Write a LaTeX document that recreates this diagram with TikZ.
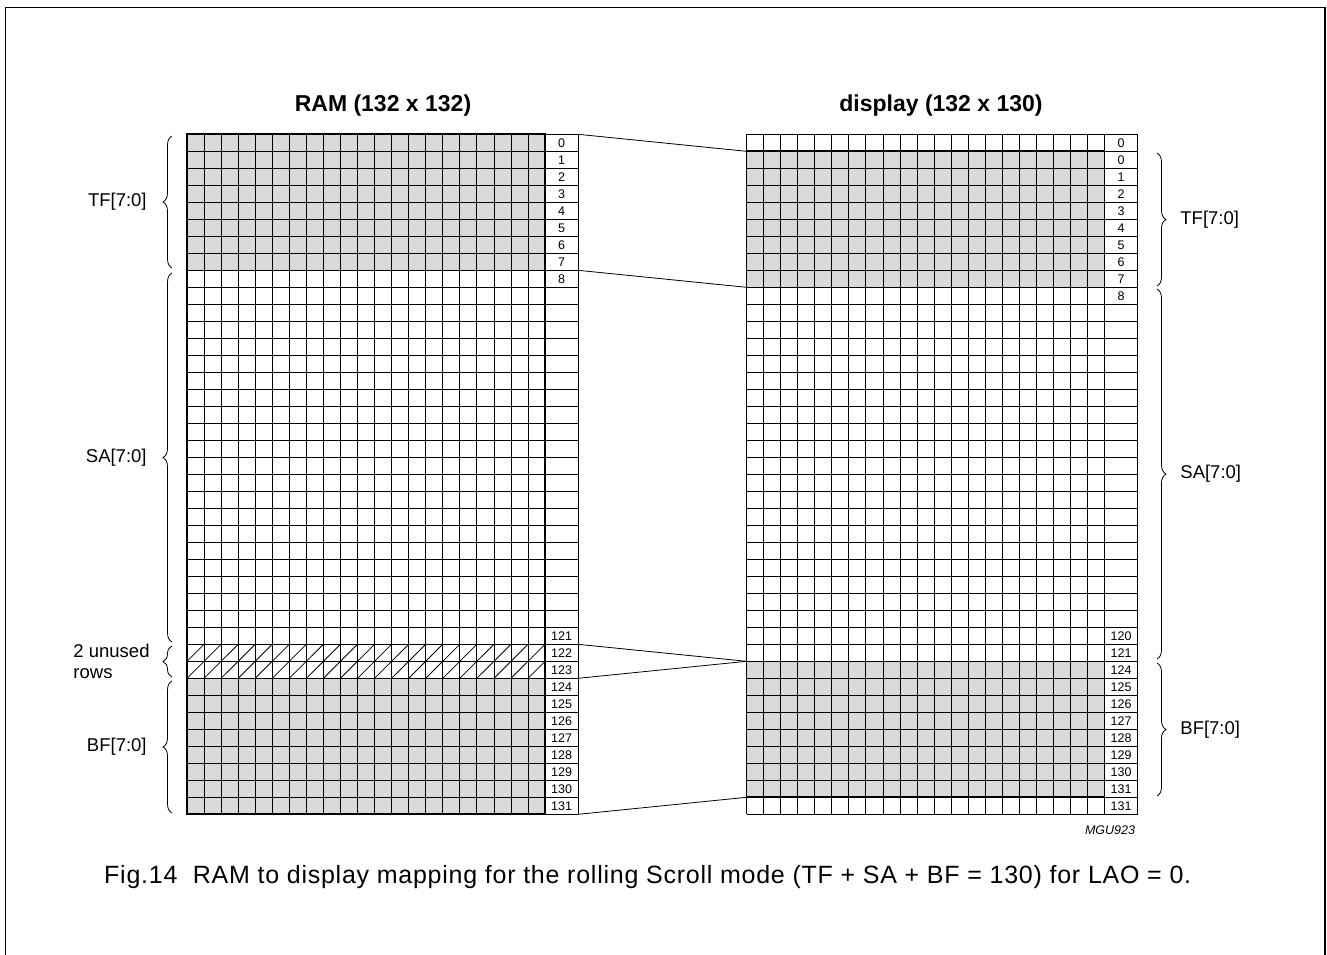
\documentclass[tikz,border=0pt]{standalone}
\usepackage{fontspec}
\setmainfont{Liberation Sans}
\usetikzlibrary{decorations.pathreplacing,positioning}

\tikzset{
  cell/.style={black, line width=0.8pt},
  thickframe/.style={black, line width=1.7pt},
  shade/.style={fill=black!15},
  rowno/.style={font=\fontsize{12.5}{14}\selectfont, inner sep=0pt},
  brc/.style={decorate, decoration={brace, amplitude=9pt}, line width=0.8pt},
  fieldlabel/.style={font=\fontsize{18.5}{20.5}\selectfont, inner sep=0pt},
  titlelabel/.style={font=\fontsize{23}{25}\selectfont\bfseries, inner sep=0pt},
}

\def\cw{17.05}
\def\rh{17}
\def\ty{134.3}
\def\lx{187}
\def\rx{746.5}

\begin{document}
\begin{tikzpicture}[x=1pt, y=-1pt]
\useasboundingbox (0,0) rectangle (1327,954);

% Frame
\draw[line width=1.3pt] (5.5,980) -- (5.5,7.3) -- (1325,7.3) -- (1325,980);

% Titles
\node[titlelabel] (ramtitle) at (383,106) {RAM (132 x 132)};
\node[titlelabel] (dsptitle) at (941,106) {display (132 x 130)};

% RAM grid
\fill[shade] (\lx,\ty) rectangle ({\lx+21*\cw},{\ty+8*\rh});
\fill[shade] (\lx,{\ty+32*\rh}) rectangle ({\lx+21*\cw},{\ty+40*\rh});
\foreach \c in {0,...,21}
  \draw[cell] ({\lx+\c*\cw},\ty) -- ({\lx+\c*\cw},{\ty+40*\rh});
\foreach \r in {0,...,40}
  \draw[cell] (\lx,{\ty+\r*\rh}) -- ({\lx+21*\cw+33},{\ty+\r*\rh});
\draw[cell] ({\lx+21*\cw+33},\ty) -- ({\lx+21*\cw+33},{\ty+40*\rh});
\foreach \r in {30,31}
  \foreach \c in {0,...,20}
    \draw[cell] ({\lx+\c*\cw},{\ty+(\r+1)*\rh}) -- ({\lx+(\c+1)*\cw},{\ty+\r*\rh});
\draw[thickframe] (\lx,\ty) rectangle ({\lx+21*\cw},{\ty+40*\rh});

\foreach \r in {0,...,8}
  \node[rowno] (ramno\r) at ({\lx+21*\cw+16.5},{\ty+(\r+0.5)*\rh}) {\r};
\foreach \r [evaluate=\r as \n using int(\r+92)] in {29,...,39}
  \node[rowno] (ramno\r) at ({\lx+21*\cw+16.5},{\ty+(\r+0.5)*\rh}) {\n};

% display grid
\fill[shade] (\rx,{\ty+\rh}) rectangle ({\rx+21*\cw},{\ty+9*\rh});
\fill[shade] (\rx,{\ty+31*\rh}) rectangle ({\rx+21*\cw},{\ty+39*\rh});
\foreach \c in {0,...,21}
  \draw[cell] ({\rx+\c*\cw},\ty) -- ({\rx+\c*\cw},{\ty+40*\rh});
\foreach \r in {0,...,40}
  \draw[cell] (\rx,{\ty+\r*\rh}) -- ({\rx+21*\cw+33},{\ty+\r*\rh});
\draw[cell] ({\rx+21*\cw+33},\ty) -- ({\rx+21*\cw+33},{\ty+40*\rh});
\draw[thickframe] (\rx,{\ty+\rh}) rectangle ({\rx+21*\cw},{\ty+39*\rh});

\node[rowno] (dspno0) at ({\rx+21*\cw+16.5},{\ty+0.5*\rh}) {0};
\foreach \r [evaluate=\r as \n using int(\r-1)] in {1,...,9}
  \node[rowno] (dspno\r) at ({\rx+21*\cw+16.5},{\ty+(\r+0.5)*\rh}) {\n};
\foreach \r [evaluate=\r as \n using int(\r+91)] in {29,30}
  \node[rowno] (dspno\r) at ({\rx+21*\cw+16.5},{\ty+(\r+0.5)*\rh}) {\n};
\foreach \r [evaluate=\r as \n using int(\r+93)] in {31,...,38}
  \node[rowno] (dspno\r) at ({\rx+21*\cw+16.5},{\ty+(\r+0.5)*\rh}) {\n};
\node[rowno] (dspno39) at ({\rx+21*\cw+16.5},{\ty+39.5*\rh}) {131};

% Mapping lines
\coordinate (ram0) at ({\lx+21*\cw+33},\ty);
\coordinate (ram8) at ({\lx+21*\cw+33},{\ty+8*\rh});
\coordinate (ram122) at ({\lx+21*\cw+33},{\ty+30*\rh});
\coordinate (ram124) at ({\lx+21*\cw+33},{\ty+32*\rh});
\coordinate (ramend) at ({\lx+21*\cw+33},{\ty+40*\rh});
\coordinate (dsp0) at (\rx,{\ty+\rh});
\coordinate (dsp8) at (\rx,{\ty+9*\rh});
\coordinate (dsp124) at (\rx,{\ty+31*\rh});
\coordinate (dspend) at (\rx,{\ty+39*\rh});

\draw[cell] (ram0) -- (dsp0);
\draw[cell] (ram8) -- (dsp8);
\draw[cell] (ram122) -- (dsp124);
\draw[cell] (ram124) -- (dsp124);
\draw[cell] (ramend) -- (dspend);

% Braces
\draw[brc] (172,268) -- (172,136) node[midway, left=25pt, fieldlabel] (tfram) {TF[7:0]};
\draw[brc] (172,642) -- (172,273) node[midway, left=25pt, fieldlabel] (saram) {SA[7:0]};
\draw[brc] (172,677) -- (172,646) node[midway, left=22pt, fieldlabel, align=left] (unused) {2 unused\\rows};
\draw[brc] (172,813) -- (172,681) node[midway, left=25pt, fieldlabel] (bfram) {BF[7:0]};

\draw[brc] (1157,153) -- (1157,286) node[midway, right=23pt, fieldlabel] (tfdsp) {TF[7:0]};
\draw[brc] (1157,289) -- (1157,659) node[midway, right=23pt, fieldlabel] (sadsp) {SA[7:0]};
\draw[brc] (1157,663) -- (1157,796) node[midway, right=23pt, fieldlabel] (bfdsp) {BF[7:0]};

% Code and caption
\node[font=\fontsize{12.5}{14}\selectfont\itshape, inner sep=0pt] (code) at (1110,830) {MGU923};
\node[font=\fontsize{25}{27}\selectfont\addfontfeature{LetterSpace=3}, inner sep=0pt, anchor=west] (caption) at (104,877)
  {Fig.14\ \ RAM to display mapping for the rolling Scroll mode (TF + SA + BF = 130) for LAO = 0.};

\end{tikzpicture}
\end{document}
